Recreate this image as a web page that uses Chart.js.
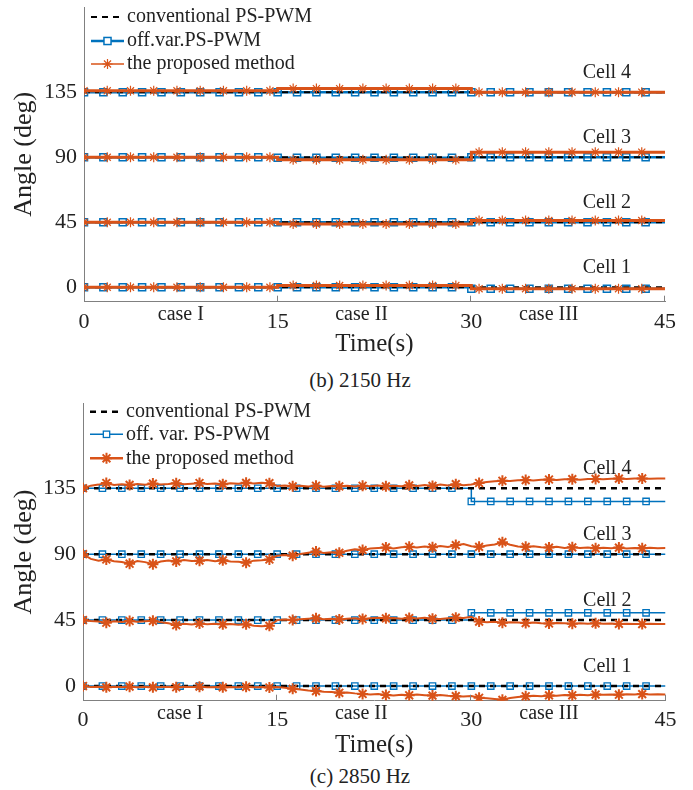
<!DOCTYPE html>
<html><head><meta charset="utf-8">
<script src="https://cdn.jsdelivr.net/npm/chart.js@4.4.1/dist/chart.umd.min.js"></script>
<style>
html,body{margin:0;padding:0;background:#fff;width:693px;height:790px;overflow:hidden;}
canvas{position:absolute;left:0;}
#c1{top:0}
#c2{top:395px}
.cap{position:absolute;left:260px;width:200px;text-align:center;font-family:'Liberation Serif','Times New Roman',serif;font-size:21px;color:#222;line-height:22px;}
</style></head><body>
<canvas id="c1" width="693" height="360"></canvas>
<canvas id="c2" width="693" height="365"></canvas>
<div class="cap" style="top:369px">(b) 2150 Hz</div>
<div class="cap" style="top:765px">(c) 2850 Hz</div>
<script>
// ---------- data ----------
const timeTicks = [0, 15, 30, 45];
const angleTicks = [0, 45, 90, 135];
const caseNames = ['case I', 'case II', 'case III'];
const caseStarts = [0, 15, 30];
const caseLabelTimes = [7.5, 21.5, 36];
const cellNames = ['Cell 1', 'Cell 2', 'Cell 3', 'Cell 4'];
const legend2150 = ['conventional PS-PWM', 'off.var.PS-PWM', 'the proposed method'];
const legend2850 = ['conventional PS-PWM', 'off. var. PS-PWM', 'the proposed method'];

// 2150 Hz : angle level per case [case I, case II, case III], cells 1..4
const conv2150 = [[0, 0, 0], [45, 45, 45], [90, 90, 90], [135, 135, 135]];
const offvar2150 = [[0, 0, -1], [45, 45, 45], [90, 89.6, 90], [135, 135, 135]];
const prop2150 = [[0, 1.2, -1], [45, 43.8, 46.2], [90, 88.2, 93.5], [136, 137.5, 135]];

// 2850 Hz
const conv2850 = [[0, 0, 0], [45, 45, 45], [90, 90, 90], [135, 135, 135]];
const offvar2850 = [[0, 0, 0], [45, 45, 50], [90, 90, 90], [135, 135, 126]];
// proposed method, sampled every 0.6 s from 0 to 45 s
const prop2850Cell1 = [0,-0.6,-0.4,-0.9,-0.5,-0.7,-0.4,-0.8,-0.5,-0.9,-0.6,-0.4,-0.8,-0.5,-0.7,-0.4,-0.8,-0.6,-0.9,-0.6,-0.8,-0.5,-0.9,-0.7,-1.0,
  -0.6,-1.2,-1.9,-2.4,-3.1,-3.4,-3.9,-4.0,-4.6,-4.4,-5.0,-5.4,-5.7,-5.5,-6.1,-6.4,-6.0,-6.3,-5.8,-6.2,-6.5,-6.1,-6.6,-6.9,-7.2,
  -6.8,-8.0,-8.4,-8.8,-9.4,-8.2,-7.4,-7.0,-6.6,-6.9,-6.4,-6.6,-6.1,-6.3,-5.9,-6.2,-5.8,-6.0,-5.7,-5.9,-5.6,-5.8,-5.5,-5.7,-5.6,-5.7];
const prop2850Cell2 = [45,44.4,44.0,43.2,44.3,43.8,44.4,43.9,44.2,44.5,43.6,42.8,41.6,42.5,42.0,42.7,42.2,42.6,42.1,42.4,41.9,42.2,41.2,40.9,41.1,
  45.0,45.4,45.1,45.6,45.9,46.2,45.6,45.9,45.5,45.9,46.2,45.8,46.3,46.7,46.2,46.5,46.0,46.4,46.1,46.6,46.0,45.8,46.3,46.7,46.5,
  47.3,44.0,43.6,43.9,43.2,43.6,43.3,43.0,43.3,42.9,42.7,43.0,42.8,42.6,42.9,42.6,42.8,42.5,42.7,42.4,42.6,42.4,42.3,42.5,42.3,42.3];
const prop2850Cell3 = [90,86.8,85.6,86.4,85.2,84.6,83.5,85.4,84.6,83.2,85.0,85.7,85.1,86.0,85.3,85.6,86.1,85.2,85.8,85.0,84.8,84.2,85.6,85.9,86.4,
  88.9,89.4,89.0,90.2,91.0,91.8,90.9,91.4,91.0,92.4,93.4,92.8,93.9,94.2,94.6,93.9,94.8,95.1,94.5,95.2,94.7,95.6,95.0,96.2,96.9,
  95.4,95.0,96.0,96.6,98.2,96.4,95.3,95.0,95.5,94.8,94.5,95.0,94.3,94.7,94.2,94.6,94.0,94.4,94.1,94.5,93.9,94.3,94.0,94.4,94.1,94.2];
const prop2850Cell4 = [135,136.8,137.5,138.6,137.2,137.8,137.3,137.9,137.4,138.2,137.6,137.9,138.4,137.7,138.1,138.6,137.9,138.3,137.8,138.4,138.1,138.7,138.2,138.8,138.5,
  136.6,136.9,136.3,136.8,136.2,136.7,136.1,136.6,136.3,136.8,136.2,136.7,136.4,136.9,136.3,136.8,136.4,137.0,136.5,137.2,136.6,137.5,136.9,137.8,137.1,
  137.6,138.6,139.3,139.8,140.1,139.9,140.4,140.6,140.3,140.8,141.0,140.7,141.1,141.2,140.9,141.3,141.4,141.2,141.5,141.6,141.4,141.6,141.7,141.5,141.6,141.6];
const prop2850 = [prop2850Cell1, prop2850Cell2, prop2850Cell3, prop2850Cell4];
const sampleTimes2850 = prop2850Cell1.map((_, i) => Math.round(i * 6) / 10);

// ---------- styles ----------
const FONT = "'Liberation Serif','Times New Roman',serif";
const AXIS = '#808080', TXT = '#222222';
const ORANGE = '#D95319', BLUE = '#0072BD', BLACK = '#000000';

Chart.defaults.font.family = FONT;
Chart.defaults.color = TXT;

function levelAt(levels, t) {
  let k = 0;
  caseStarts.forEach((s, i) => { if (t >= s - 1e-9) k = i; });
  return levels[k];
}
function stepPoints(levels) {
  const pts = caseStarts.map((s, i) => ({x: s, y: levels[i]}));
  pts.push({x: timeTicks[timeTicks.length - 1], y: levels[levels.length - 1]});
  return pts;
}
function markerPoints(levels, step) {
  const pts = [];
  for (let k = 0; k * step < 45 - 1e-6; k++) {
    const t = Math.round(k * step * 100) / 100;
    pts.push({x: t, y: levelAt(levels, t)});
  }
  return pts;
}

function buildDatasets(conv, off, propLevels, propSeries, st) {
  const ds = [];
  for (let c = 0; c < 4; c++) {
    if (propSeries) {
      ds.push({data: sampleTimes2850.map((t, i) => ({x: t, y: propSeries[c][i]})),
        borderColor: ORANGE, borderWidth: st.propW, pointStyle: 'star',
        pointRadius: (ctx) => (ctx.dataIndex % 3 === 0 && ctx.dataIndex < 75) ? st.starR : 0,
        pointBorderColor: ORANGE, pointBackgroundColor: ORANGE, pointBorderWidth: st.starW, tension: 0});
    } else {
      ds.push({data: stepPoints(propLevels[c]), stepped: true, borderColor: ORANGE, borderWidth: st.propW, pointRadius: 0});
      ds.push({data: markerPoints(propLevels[c], 1.8), showLine: false, pointStyle: 'star', pointRadius: st.starR,
        pointBorderColor: ORANGE, pointBackgroundColor: ORANGE, pointBorderWidth: st.starW});
    }
  }
  for (let c = 0; c < 4; c++) {
    ds.push({data: markerPoints(off[c], 1.5), showLine: false, pointStyle: 'rect', pointRadius: st.sqR,
      pointBorderColor: BLUE, pointBackgroundColor: 'rgba(0,0,0,0)', pointBorderWidth: st.sqW});
  }
  for (let c = 0; c < 4; c++) {
    ds.push({data: stepPoints(conv[c]), stepped: true, borderColor: BLACK, borderWidth: st.convW, borderDash: [6, 5], pointRadius: 0});
  }
  for (let c = 0; c < 4; c++) {
    ds.push({data: stepPoints(off[c]), stepped: true, borderColor: BLUE, borderWidth: st.offW, pointRadius: 0});
  }
  return ds;
}

const annotPlugin = {
  id: 'annot',
  afterDatasetsDraw(chart, args, o) {
    const {ctx, chartArea: ca, scales: {x, y}} = chart;
    ctx.save();
    // inward ticks
    ctx.strokeStyle = AXIS; ctx.lineWidth = 1;
    timeTicks.forEach(t => {
      if (t === 0) return;
      const px = Math.round(x.getPixelForValue(t)) - 0.5;
      ctx.beginPath(); ctx.moveTo(px, ca.bottom); ctx.lineTo(px, ca.bottom - 6); ctx.stroke();
    });
    // labels
    ctx.fillStyle = TXT; ctx.textAlign = 'center'; ctx.textBaseline = 'middle';
    ctx.font = '20px ' + FONT;
    cellNames.forEach((n, i) => ctx.fillText(n, x.getPixelForValue(40.5), y.getPixelForValue(angleTicks[i] + 13.5)));
    caseNames.forEach((n, i) => ctx.fillText(n, x.getPixelForValue(caseLabelTimes[i]), ca.bottom + o.caseOffset));
    // legend
    const x0 = ca.left + 7, x1 = ca.left + 40, xm = (x0 + x1) / 2;
    ctx.textAlign = 'left';
    o.names.forEach((n, i) => {
      const yy = ca.top + o.rows[i];
      ctx.save();
      if (i === 0) {
        ctx.strokeStyle = BLACK; ctx.lineWidth = o.st.convW; ctx.setLineDash([6, 5]);
        ctx.beginPath(); ctx.moveTo(x0, yy); ctx.lineTo(x1, yy); ctx.stroke();
      } else if (i === 1) {
        ctx.strokeStyle = BLUE; ctx.lineWidth = o.st.offW;
        ctx.beginPath(); ctx.moveTo(x0, yy); ctx.lineTo(x1, yy); ctx.stroke();
        ctx.lineWidth = o.st.sqW;
        const s = o.st.sqR * Math.SQRT1_2;
        ctx.fillStyle = '#fff';
        ctx.fillRect(xm - s, yy - s, 2 * s, 2 * s);
        ctx.strokeRect(xm - s, yy - s, 2 * s, 2 * s);
      } else {
        ctx.strokeStyle = ORANGE; ctx.lineWidth = o.st.legPropW;
        ctx.beginPath(); ctx.moveTo(x0, yy); ctx.lineTo(x1, yy); ctx.stroke();
        ctx.lineWidth = o.st.starW;
        const r = o.st.starR;
        ctx.beginPath();
        for (let k = 0; k < 4; k++) {
          const a = k * Math.PI / 4;
          ctx.moveTo(xm - r * Math.cos(a), yy - r * Math.sin(a));
          ctx.lineTo(xm + r * Math.cos(a), yy + r * Math.sin(a));
        }
        ctx.stroke();
      }
      ctx.restore();
      ctx.fillStyle = TXT;
      ctx.fillText(n, x1 + 3, yy);
    });
    ctx.restore();
  }
};

function makeChart(id, datasets, c) {
  return new Chart(document.getElementById(id), {
    type: 'line',
    data: {datasets},
    plugins: [annotPlugin],
    options: {
      responsive: false, animation: false, devicePixelRatio: 1, events: [],
      layout: {padding: {top: c.padTop, right: c.padRight, bottom: 0, left: 0}},
      plugins: {legend: {display: false}, tooltip: {enabled: false},
        annot: {caseOffset: c.caseOffset, rows: c.rows, names: c.names, st: c.st}},
      scales: {
        x: {type: 'linear', min: 0, max: 45,
          afterBuildTicks: (s) => { s.ticks = timeTicks.map(v => ({value: v})); },
          afterFit: (s) => { s.height = c.xH; s.paddingLeft = 0; s.paddingRight = 0; },
          grid: {display: false, drawTicks: false},
          border: {display: true, color: AXIS, width: 1},
          ticks: {color: TXT, font: {size: 22, lineHeight: 1}, padding: c.xTickPad, maxRotation: 0, callback: (v) => String(v)},
          title: {display: true, text: 'Time(s)', color: TXT, font: {size: 25, lineHeight: 1.2}, padding: {top: 0, bottom: c.xTitlePad}}
        },
        y: {type: 'linear', min: -10, max: c.yMax,
          afterBuildTicks: (s) => { s.ticks = angleTicks.map(v => ({value: v})); },
          afterFit: (s) => { s.width = c.yW; s.paddingTop = 0; s.paddingBottom = 0; },
          grid: {display: false, drawTicks: false},
          border: {display: true, color: AXIS, width: 1},
          ticks: {color: TXT, font: {size: 22, lineHeight: 1}, padding: 7, callback: (v) => String(v)},
          title: {display: true, text: 'Angle (deg)', color: TXT, font: {size: 26, lineHeight: 1.2}, padding: {top: 8.4, bottom: 0}}
        }
      }
    }
  });
}

const st2150 = {propW: 3, legPropW: 1.5, offW: 2.5, convW: 2, starR: 5, starW: 1.2, sqR: 5, sqW: 1.5};
const st2850 = {propW: 2, legPropW: 2.5, offW: 1.5, convW: 2.5, starR: 5.5, starW: 2, sqR: 4.5, sqW: 1.3};

makeChart('c1', buildDatasets(conv2150, offvar2150, prop2150, null, st2150), {
  padTop: 7, padRight: 28, xH: 58.3, yW: 84, yMax: 194, xTickPad: 10, xTitlePad: 1,
  caseOffset: 13.3, rows: [10, 34, 57], names: legend2150, st: st2150
});
makeChart('c2', buildDatasets(conv2850, offvar2850, null, prop2850, st2850), {
  padTop: 8.3, padRight: 27.5, xH: 59.3, yW: 83, yMax: 193, xTickPad: 9, xTitlePad: 0,
  caseOffset: 13, rows: [8.5, 31, 55], names: legend2850, st: st2850
});
</script>
</body></html>
